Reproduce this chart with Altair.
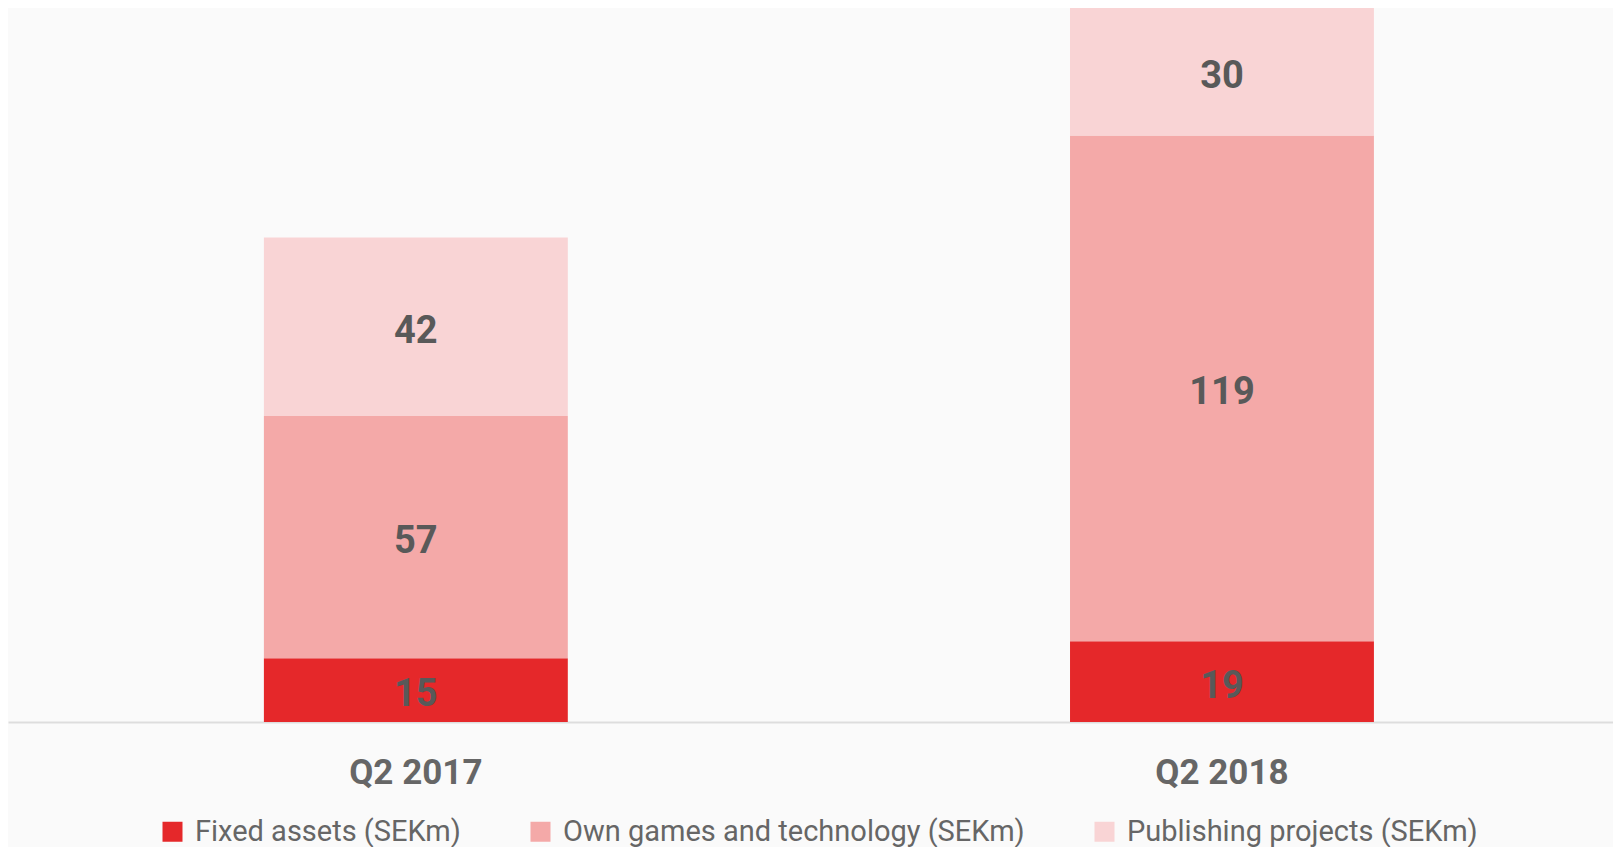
import altair as alt
import pandas as pd

categories = ["Q2 2017", "Q2 2018"]
series = ["Fixed assets (SEKm)", "Own games and technology (SEKm)", "Publishing projects (SEKm)"]
fixed_assets = [15, 19]
own_games = [57, 119]
publishing = [42, 30]
colors = ["#e5282a", "#f4a9a8", "#f9d4d5"]

rows = []
for si, (name, vals) in enumerate(zip(series, [fixed_assets, own_games, publishing])):
    for c, v in zip(categories, vals):
        rows.append({"cat": c, "series": name, "idx": si, "value": v})
df = pd.DataFrame(rows)

FONT = "Roboto"

base = alt.Chart(df).transform_stack(
    stack="value", as_=["v0", "v1"], groupby=["cat"],
    sort=[alt.SortField("idx", order="ascending")]
).transform_calculate(mid="(datum.v0 + datum.v1) / 2")

xscale = alt.Scale(paddingInner=0.623, paddingOuter=0.307, align=0.517)
xenc = alt.X("cat:N", sort=categories, scale=xscale,
             axis=alt.Axis(title=None, labelAngle=0, ticks=False, domainColor="#dddddd",
                           domainWidth=2, labelFont=FONT, labelFontWeight="bold",
                           labelFontSize=35, labelColor="#666666", labelPadding=33))
yscale = alt.Scale(domain=[0, 168], nice=False, zero=True)

bars = base.mark_bar().encode(
    x=xenc,
    y=alt.Y("v0:Q", scale=yscale, axis=None),
    y2="v1:Q",
    color=alt.Color("series:N", sort=series,
                    scale=alt.Scale(domain=series, range=colors),
                    legend=alt.Legend(title=None, orient="none", direction="horizontal",
                                      legendX=150, legendY=809, labelLimit=0,
                                      symbolType="square", symbolSize=400, symbolStrokeWidth=0,
                                      labelFont=FONT, labelFontSize=29, labelColor="#666666",
                                      labelOffset=8, columnPadding=65, padding=0)),
)

labels = base.mark_text(font=FONT, fontWeight="bold", fontSize=38, color="#595959",
                        baseline="middle", align="center", dy=5).encode(
    x=alt.X("cat:N", sort=categories),
    y=alt.Y("mid:Q", scale=yscale, axis=None),
    text=alt.Text("value:Q"),
)

chart = alt.layer(bars, labels).properties(
    width=1605, height=714, background="#fafafa",
    padding={"left": 0, "top": 0, "right": 0, "bottom": 125},
    autosize=alt.AutoSizeParams(type="none"),
).configure_view(stroke=None)

chart.save("out.html", embed_options={"renderer": "svg", "actions": False})
